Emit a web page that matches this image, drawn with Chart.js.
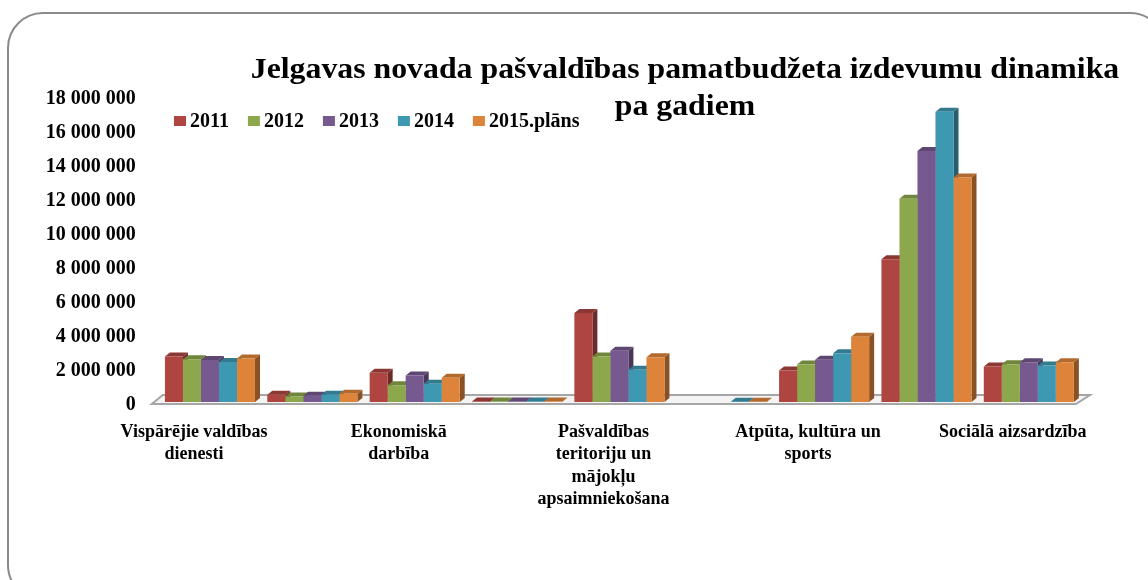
<!DOCTYPE html>
<html>
<head>
<meta charset="utf-8">
<script src="https://cdn.jsdelivr.net/npm/chart.js@4.4.1/dist/chart.umd.min.js"></script>
<style>
  body { margin: 0; background: #fff; }
  #wrap { position: relative; width: 1148px; height: 580px; overflow: hidden; }
  #frame { position: absolute; left: 7px; top: 12px; width: 1159px; height: 589px;
           border: 2px solid #8a8a8a; border-radius: 36px; box-sizing: border-box; }
  canvas { position: absolute; left: 0; top: 0; }
</style>
</head>
<body>
<div id="wrap">
  <div id="frame"></div>
  <canvas id="budzets" width="1148" height="580"></canvas>
</div>
<script>
// kategorijas (rindas ass parakstiem)
const categories = [
  ['Vispārējie valdības', 'dienesti'],
  ['Sabiedriskā kārtība un', 'drošība'],
  ['Ekonomiskā', 'darbība'],
  ['Vides aizsardzība'],
  ['Pašvaldības', 'teritoriju un', 'mājokļu', 'apsaimniekošana'],
  ['Veselība'],
  ['Atpūta, kultūra un', 'sports'],
  ['Izglītība'],
  ['Sociālā aizsardzība']
];
const years = ['2011', '2012', '2013', '2014', '2015.plāns'];
const v2011 = [2680000, 430000, 1720000, 30000, 5230000, null, 1850000, 8390000, 2090000];
const v2012 = [2520000, 330000, 980000, 30000, 2670000, null, 2200000, 11960000, 2220000];
const v2013 = [2470000, 370000, 1560000, 30000, 3020000, null, 2480000, 14770000, 2340000];
const v2014 = [2350000, 430000, 1070000, 30000, 1890000, 20000, 2870000, 17070000, 2150000];
const v2015 = [2560000, 490000, 1430000, 30000, 2630000, 20000, 3840000, 13200000, 2340000];
const yMax = 18000000;
const yStep = 2000000;
const titleLines = ['Jelgavas novada pašvaldības pamatbudžeta izdevumu dinamika', 'pa gadiem'];

const colors = ['#ae4541', '#8ca74c', '#76598f', '#3e98b2', '#de843a'];
const series = [v2011, v2012, v2013, v2014, v2015];

function shade(hex, k) {
  const n = parseInt(hex.slice(1), 16);
  const r = Math.round(((n >> 16) & 255) * k);
  const g = Math.round(((n >> 8) & 255) * k);
  const b = Math.round((n & 255) * k);
  return 'rgb(' + r + ',' + g + ',' + b + ')';
}

function fmt(v) {
  return String(v).replace(/\B(?=(\d{3})+(?!\d))/g, ' ');
}

const DX = 5, DY = 4;

// 3D grīda, sānu un augšējās skaldnes
const bars3d = {
  id: 'bars3d',
  beforeDatasetsDraw(chart) {
    const ctx = chart.ctx;
    const area = chart.chartArea;
    const base = chart.scales.y.getPixelForValue(0);
    ctx.save();
    ctx.beginPath();
    ctx.moveTo(area.left - 7, base + 2);
    ctx.lineTo(area.right - 4, base + 2);
    ctx.lineTo(area.right + 10, base - 7);
    ctx.lineTo(area.left + 4, base - 7);
    ctx.closePath();
    ctx.fillStyle = '#f4f4f4';
    ctx.fill();
    ctx.strokeStyle = '#a6a6a6';
    ctx.lineWidth = 2;
    ctx.stroke();

    for (let i = 0; i < categories.length; i++) {
      chart.data.datasets.forEach((ds, d) => {
        if (ds.data[i] == null) return;
        const el = chart.getDatasetMeta(d).data[i];
        const l = el.x - el.width / 2, r = el.x + el.width / 2, y = el.y;
        ctx.beginPath();
        ctx.moveTo(r, y);
        ctx.lineTo(r + DX, y - DY);
        ctx.lineTo(r + DX, base - DY);
        ctx.lineTo(r, base);
        ctx.closePath();
        ctx.fillStyle = shade(colors[d], 0.62);
        ctx.fill();
        ctx.beginPath();
        ctx.moveTo(l, y);
        ctx.lineTo(r, y);
        ctx.lineTo(r + DX, y - DY);
        ctx.lineTo(l + DX, y - DY);
        ctx.closePath();
        ctx.fillStyle = shade(colors[d], 0.8);
        ctx.fill();
      });
    }
    ctx.restore();
  },
  afterDraw(chart) {
    const ctx = chart.ctx;
    ctx.save();
    // virsraksts
    ctx.fillStyle = '#000';
    ctx.textAlign = 'center';
    ctx.textBaseline = 'alphabetic';
    ctx.font = 'bold 30px "Liberation Serif"';
    ctx.save();
    ctx.translate(685, 0);
    ctx.scale(1.06, 1);
    ctx.fillText(titleLines[0], 0, 78);
    ctx.fillText(titleLines[1], 0, 115);
    ctx.restore();
    // leģenda
    ctx.font = 'bold 20px "Liberation Serif"';
    ctx.textAlign = 'left';
    ctx.textBaseline = 'middle';
    let x = 174;
    chart.data.datasets.forEach((ds) => {
      ctx.fillStyle = ds.backgroundColor;
      ctx.fillRect(x, 116, 12, 10);
      ctx.fillStyle = '#000';
      ctx.fillText(ds.label, x + 16, 122);
      x += 16 + ctx.measureText(ds.label).width + 19;
    });
    ctx.restore();
  }
};

const ctx = document.getElementById('budzets').getContext('2d');
new Chart(ctx, {
  type: 'bar',
  data: {
    labels: categories,
    datasets: years.map((y, i) => ({
      label: y,
      data: series[i],
      backgroundColor: colors[i],
      borderWidth: 0,
      barPercentage: 1,
      categoryPercentage: 0.88
    }))
  },
  options: {
    responsive: false,
    animation: false,
    layout: { padding: { top: 96, left: 30, right: 68, bottom: 0 } },
    plugins: {
      legend: { display: false },
      title: { display: false },
      tooltip: { enabled: false }
    },
    scales: {
      x: {
        grid: { display: false, drawTicks: false },
        border: { display: false },
        afterFit: s => { s.height = 178; },
        ticks: {
          autoSkip: false,
          maxRotation: 0,
          minRotation: 0,
          padding: 19,
          labelOffset: -16,
          color: '#000',
          font: { family: '"Liberation Serif"', size: 18, weight: 'bold', lineHeight: 1.25 },
          callback: function(value, index) {
            return index % 2 === 0 ? this.getLabelForValue(value) : '';
          }
        }
      },
      y: {
        min: 0,
        max: yMax,
        grid: { display: false, drawTicks: false },
        border: { display: false },
        afterFit: s => { s.width = 128.8; },
        ticks: {
          stepSize: yStep,
          padding: 23,
          labelOffset: 3,
          color: '#000',
          font: { family: '"Liberation Serif"', size: 20, weight: 'bold' },
          callback: v => fmt(v)
        }
      }
    }
  },
  plugins: [bars3d]
});
</script>
</body>
</html>
